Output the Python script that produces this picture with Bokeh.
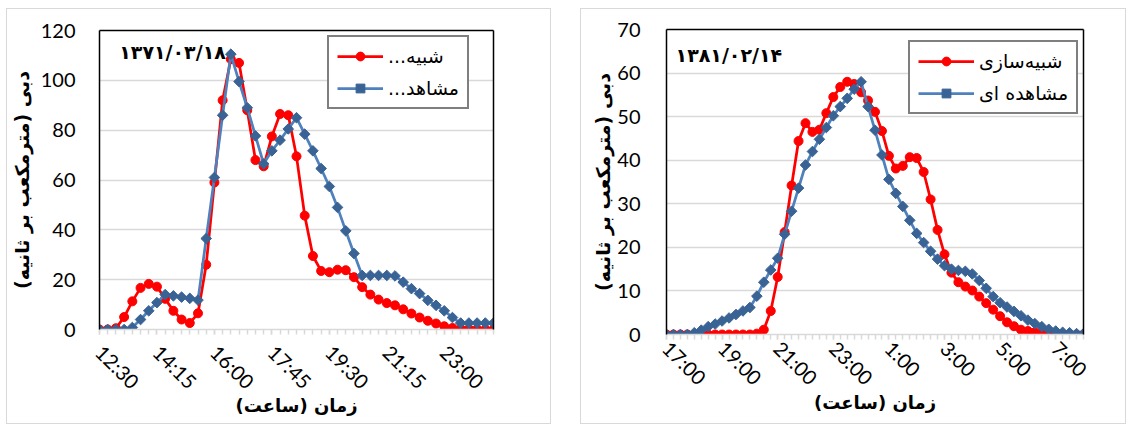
from bokeh.plotting import figure
from bokeh.models import Range1d, FixedTicker, LinearAxis, Label, Legend, LegendItem, Spacer
from bokeh.layouts import row, column
from bokeh.embed import file_html
from bokeh.resources import INLINE

# ---------------- data ----------------
# Left chart: event 1371/03/18, 15-minute steps from 12:30 to 00:30
left_tick_idx = [0, 7, 14, 21, 28, 35, 42]
left_tick_labels = ["12:30", "14:15", "16:00", "17:45", "19:30", "21:15", "23:00"]
left_y_ticks = [0, 20, 40, 60, 80, 100, 120]
left_sim = [0, 0, 0.5, 5, 11.3, 16.7, 18.3, 17.2, 12.3, 7.5, 4, 2.6, 6.5, 26, 59, 92,
            108.5, 107, 88, 68, 65.5, 77.5, 86.5, 86, 69.5, 45.7, 29.5, 23.5, 23, 24,
            23.8, 21, 17, 14, 12, 10.6, 9.7, 8.1, 6.4, 4.8, 3.5, 2.4, 1.3, 0.6, 0.3,
            0.2, 0.1, 0, 0]
left_obs = [0, 0, 0, 0, 0.8, 4, 7.5, 10.8, 14, 13.5, 13, 12.5, 11.8, 36.5, 61, 86,
            110.5, 99.5, 89, 77.7, 66.5, 71.7, 76, 80.5, 85, 78.4, 71.7, 64.6, 57.4,
            49, 39.6, 30.5, 21.7, 21.7, 21.7, 21.7, 21.5, 19, 16.4, 14.4, 11.7, 9.7,
            7.5, 4.8, 2.6, 2.6, 2.6, 2.6, 2.6]
left_names = ["شبیه...", "مشاهد..."]
left_date = "۱۳۷۱/۰۳/۱۸"

# Right chart: event 1381/02/14, 15-minute steps from 17:00 to 08:00
right_tick_idx = [0, 8, 16, 24, 32, 40, 48, 56]
right_tick_labels = ["17:00", "19:00", "21:00", "23:00", "1:00", "3:00", "5:00", "7:00"]
right_y_ticks = [0, 10, 20, 30, 40, 50, 60, 70]
right_sim = [0, 0, 0, 0, 0, 0, 0, 0, 0, 0, 0, 0, 0, 0.2, 1.1, 5.4, 13.2, 23.5, 34.2,
             44.4, 48.5, 46.5, 47, 50.8, 54.5, 56.8, 58, 57.5, 55.6, 53.7, 51.1, 46.7,
             41, 38.1, 38.7, 40.7, 40.5, 37.3, 31, 24, 18.4, 14.2, 12, 11, 10.1, 8.7,
             7.2, 5.7, 4.2, 2.8, 1.9, 1.1, 0.8, 0.5, 0.4, 0.2, 0.1, 0.1, 0, 0, 0]
right_obs = [0, 0, 0, 0, 0.4, 1, 1.8, 2.4, 3.1, 3.8, 4.6, 5.4, 6.2, 8.8, 12, 14.8,
             17.5, 23, 28.3, 33.6, 38.9, 42, 44.8, 47.5, 50.2, 52.3, 54.2, 56.3, 58,
             52.3, 46.9, 41.2, 35.6, 32.4, 29.4, 26.2, 23.2, 21.1, 19.1, 17.3, 15.8,
             15, 14.7, 14.5, 13.9, 12.4, 10.6, 8.7, 7.3, 6.3, 5.3, 4.3, 3.3, 2.5, 1.8,
             1.2, 0.8, 0.5, 0.4, 0.2, 0.2]
right_names = ["شبیه\u200cسازی", "مشاهده ای"]
right_date = "۱۳۸۱/۰۲/۱۴"

y_title = "دبی (مترمکعب بر ثانیه)"
x_title = "زمان (ساعت)"

RLM = "\u200f"
NUM_FONT = "Lato"
FA_FONT = "DejaVu Sans"
RED = "#FF0000"
BLUE_LINE = "#4F81BD"
BLUE_MARK = "#3A6395"
GRID = "#D9D9D9"


def make_chart(tick_idx, tick_labels, y_ticks, sim, obs, names, date_text,
               width, height, borders, legend_loc, legend_glyph, date_pos,
               xlab_standoff, xtitle_standoff, ylab_standoff, ytitle_standoff):
    n = len(sim)
    x = list(range(n))
    bl, br, bt, bb = borders
    p = figure(width=width, height=height, output_backend="svg", toolbar_location=None,
               x_range=Range1d(0, n - 1), y_range=Range1d(y_ticks[0], y_ticks[-1]),
               min_border_left=bl, min_border_right=br, min_border_top=bt,
               min_border_bottom=bb)
    p.frame_align = False
    p.outline_line_color = None
    p.background_fill_color = "white"
    p.border_fill_color = "white"
    p.styles = {"border": "1px solid #D9D9D9"}

    # grid
    p.xgrid.visible = False
    p.ygrid.ticker = FixedTicker(ticks=y_ticks)
    p.ygrid.grid_line_color = GRID
    p.ygrid.grid_line_width = 1.5

    # x axis
    xa = p.xaxis[0]
    xa.ticker = FixedTicker(ticks=tick_idx, minor_ticks=x)
    xa.major_label_overrides = {i: lab for i, lab in zip(tick_idx, tick_labels)}
    xa.major_label_orientation = -0.785398
    xa.major_label_text_font = NUM_FONT
    xa.major_label_text_font_size = "20px"
    xa.major_label_text_color = "black"
    xa.major_label_standoff = xlab_standoff
    xa.axis_line_color = GRID
    xa.axis_line_width = 1.5
    xa.major_tick_line_color = GRID
    xa.major_tick_line_width = 1.5
    xa.major_tick_in = 0
    xa.major_tick_out = 5
    xa.minor_tick_line_color = GRID
    xa.minor_tick_line_width = 1.5
    xa.minor_tick_in = 0
    xa.minor_tick_out = 5
    xa.axis_label = RLM + x_title + RLM
    xa.axis_label_text_font = FA_FONT
    xa.axis_label_text_font_style = "bold"
    xa.axis_label_text_font_size = "18px"
    xa.axis_label_text_color = "black"
    xa.axis_label_standoff = xtitle_standoff

    # y axis
    ya = p.yaxis[0]
    ya.ticker = FixedTicker(ticks=y_ticks)
    ya.major_label_text_font = NUM_FONT
    ya.major_label_text_font_size = "20px"
    ya.major_label_text_color = "black"
    ya.major_label_standoff = ylab_standoff
    ya.major_tick_line_color = None
    ya.minor_tick_line_color = None
    ya.axis_line_color = "black"
    ya.axis_line_width = 1.5
    ya.axis_label = RLM + y_title + RLM
    ya.axis_label_text_font = FA_FONT
    ya.axis_label_text_font_style = "bold"
    ya.axis_label_text_font_size = "19px"
    ya.axis_label_text_color = "black"
    ya.axis_label_standoff = ytitle_standoff

    # frame lines (right and top)
    for side in ("right", "above"):
        ax = LinearAxis(ticker=FixedTicker(ticks=[]), axis_line_color="black",
                        axis_line_width=1.5, major_tick_line_color=None,
                        minor_tick_line_color=None, major_label_text_font_size="0px")
        p.add_layout(ax, side)

    # series
    r1 = p.line(x, sim, line_color=RED, line_width=2.75)
    r2 = p.scatter(x, sim, marker="circle", size=9, fill_color=RED, line_color=RED)
    r3 = p.line(x, obs, line_color=BLUE_LINE, line_width=2.75)
    r4 = p.scatter(x, obs, marker="square", size=7.5, angle=45, angle_units="deg",
                   fill_color=BLUE_MARK, line_color=BLUE_MARK)

    legend = Legend(items=[LegendItem(label=RLM + names[0] + RLM, renderers=[r1, r2]),
                           LegendItem(label=RLM + names[1] + RLM, renderers=[r3, r4])],
                    location=legend_loc)
    legend.label_text_font = FA_FONT
    legend.label_text_font_size = "19px"
    legend.label_text_color = "black"
    legend.border_line_color = "black"
    legend.border_line_width = 2
    legend.background_fill_color = "white"
    legend.background_fill_alpha = 1
    legend.glyph_width = legend_glyph
    legend.glyph_height = 22
    legend.label_standoff = 5
    legend.spacing = 10
    legend.padding = 8
    legend.margin = 0
    p.add_layout(legend)

    # date annotation
    p.add_layout(Label(x=date_pos[0], y=date_pos[1], text=date_text,
                       text_font=FA_FONT, text_font_style="bold",
                       text_font_size="19px", text_baseline="top", text_align="left",
                       text_color="black"))
    return p


H = 416
p_left = make_chart(left_tick_idx, left_tick_labels, left_y_ticks, left_sim, left_obs,
                    left_names, left_date, 545, H, (90, 59, 21, 96), (228, 220), 46,
                    (2.4, 115.8), 14, -10, 18, 5)
p_right = make_chart(right_tick_idx, right_tick_labels, right_y_ticks, right_sim,
                     right_obs, right_names, right_date, 546, H, (85, 44, 20, 91),
                     (242, 220), 56, (1.3, 66.7), 5, -9, 20, 0)

layout = column(Spacer(height=8),
                row(Spacer(width=6), p_left, Spacer(width=29), p_right))
open("out.html", "w").write(file_html(layout, INLINE))
